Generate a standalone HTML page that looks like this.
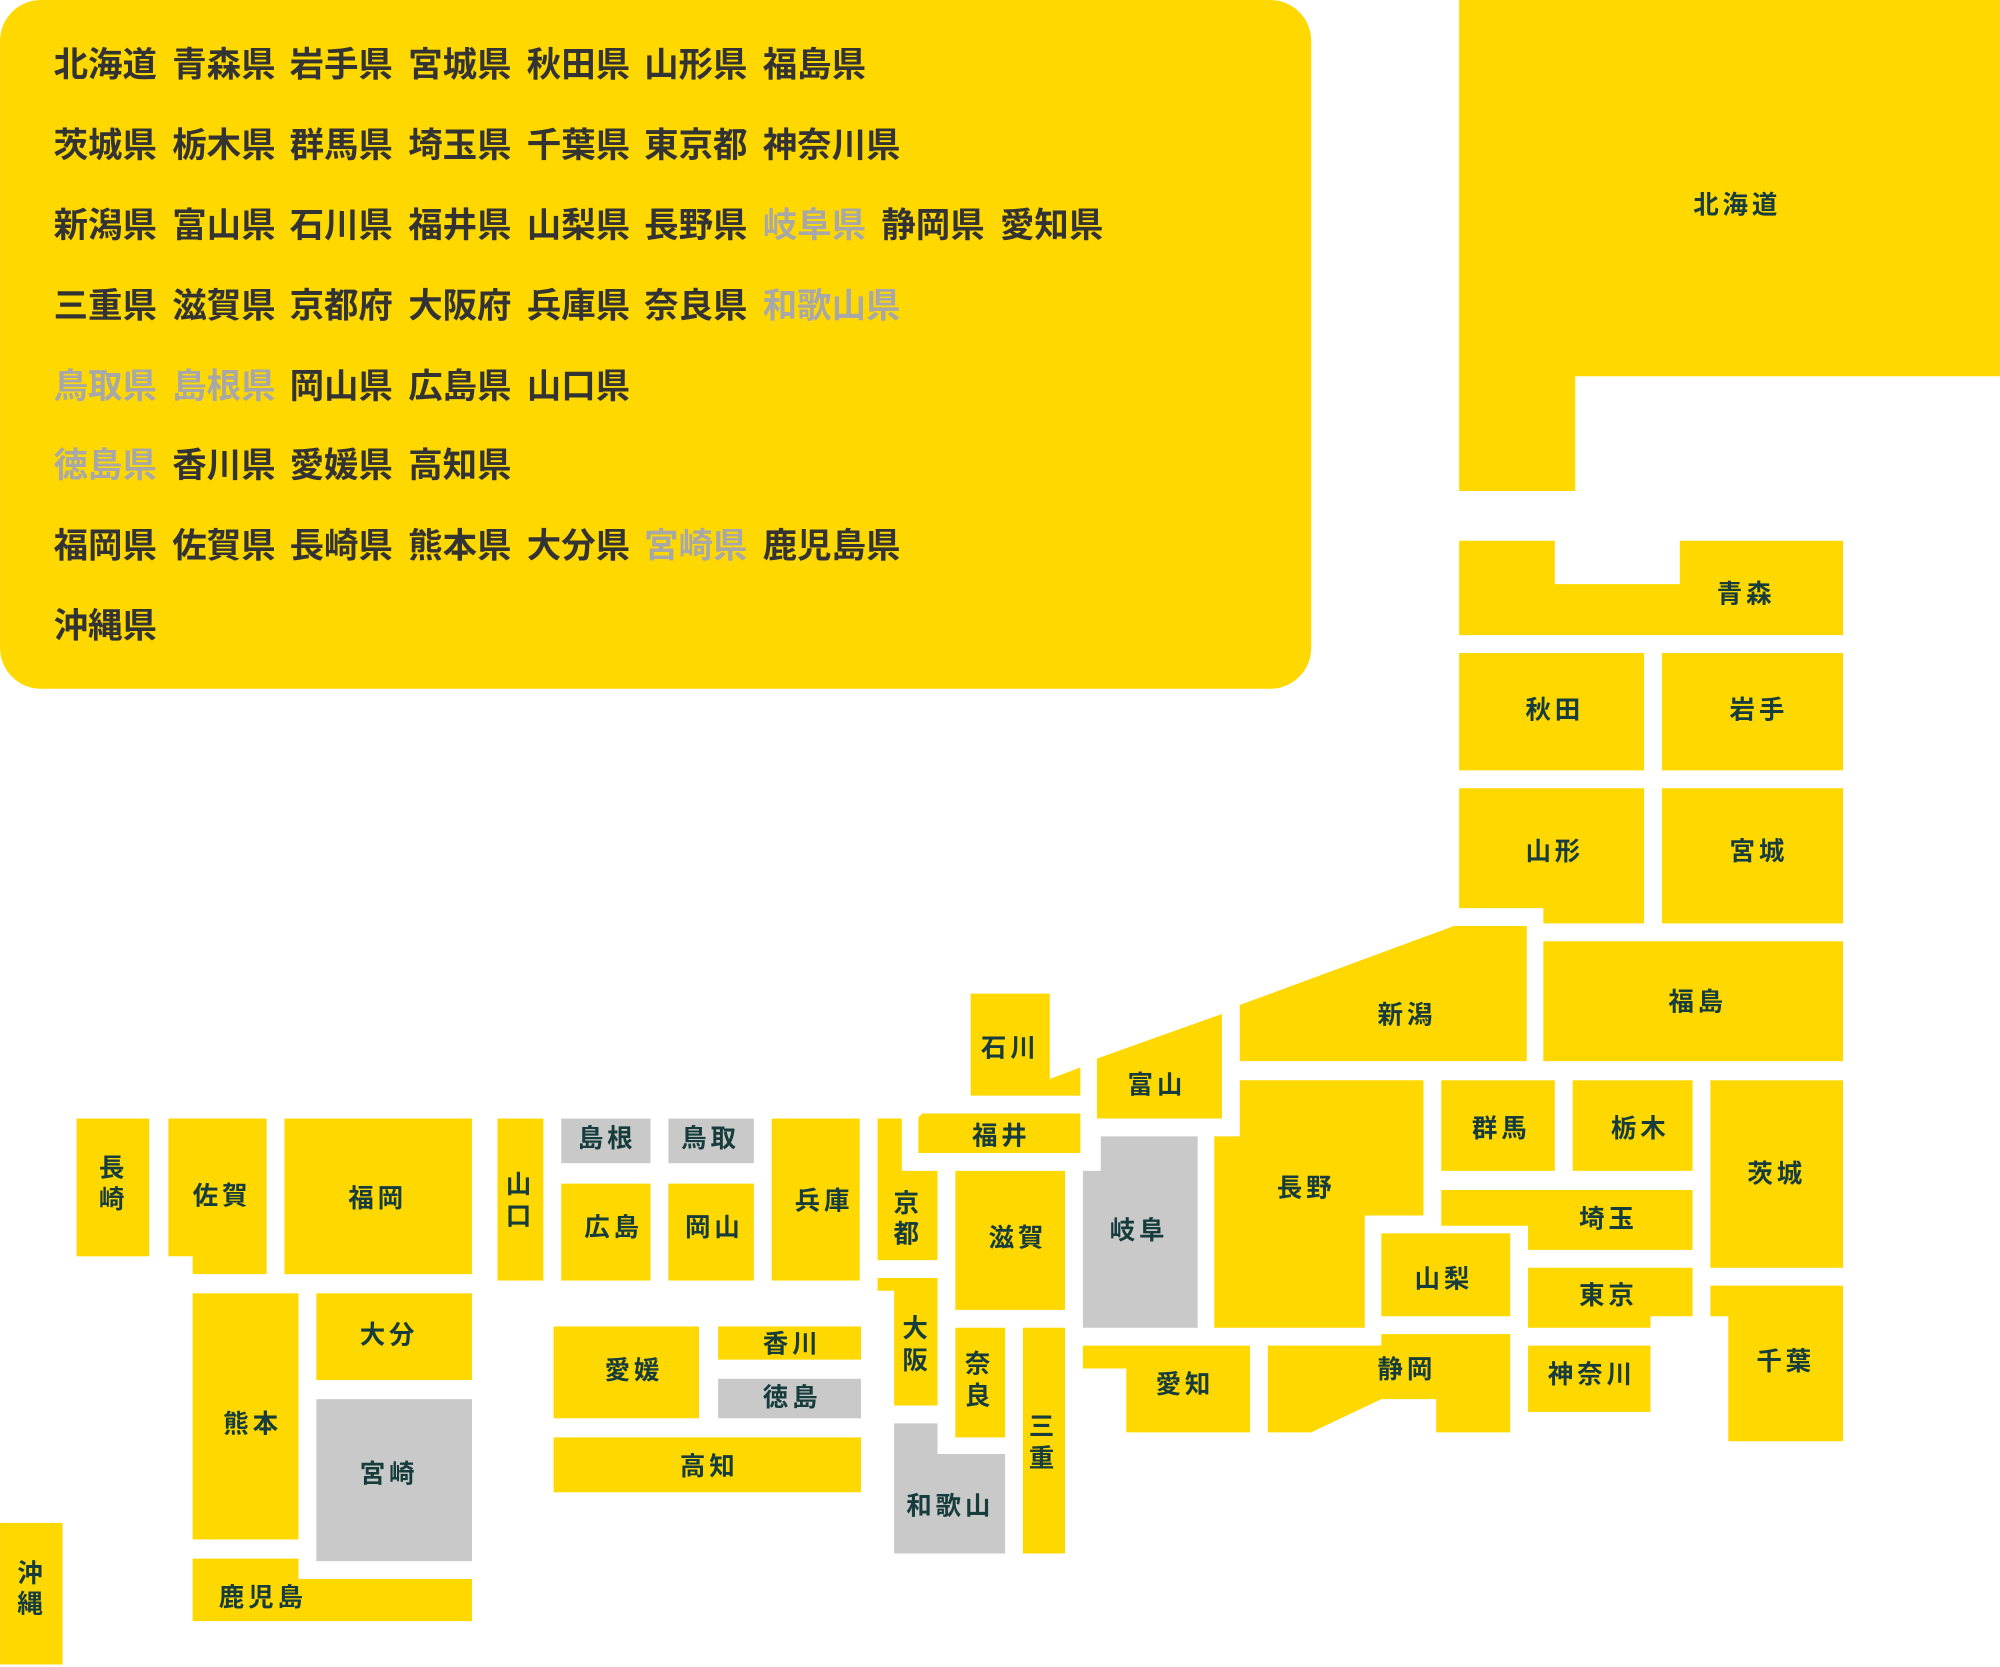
<!DOCTYPE html>
<html><head><meta charset="utf-8"><style>
html,body{margin:0;padding:0;background:#fff;}
svg{display:block}
.y{fill:#FFD800}.g{fill:#C8C9C8}
.l{font-family:"Liberation Sans","Noto Sans CJK JP",sans-serif;font-weight:bold;font-size:27px;fill:#333333}
.l .x{fill:#A8A8A8}
.m{font-family:"Liberation Sans","Noto Sans CJK JP",sans-serif;font-weight:bold;font-size:20px;fill:#173C3C;text-anchor:middle;dominant-baseline:central;letter-spacing:3px}
</style></head><body>
<svg width="2000" height="1667" viewBox="0 0 1568 1307" xmlns="http://www.w3.org/2000/svg">
<rect x="0" y="0" width="1028" height="540" rx="32" class="y"/>
<g class="l">
<text y="60"><tspan x="42">北海道</tspan><tspan x="135">青森県</tspan><tspan x="227">岩手県</tspan><tspan x="320">宮城県</tspan><tspan x="413">秋田県</tspan><tspan x="505">山形県</tspan><tspan x="598">福島県</tspan></text>
<text y="123"><tspan x="42">茨城県</tspan><tspan x="135">栃木県</tspan><tspan x="227">群馬県</tspan><tspan x="320">埼玉県</tspan><tspan x="413">千葉県</tspan><tspan x="505">東京都</tspan><tspan x="598">神奈川県</tspan></text>
<text y="186"><tspan x="42">新潟県</tspan><tspan x="135">富山県</tspan><tspan x="227">石川県</tspan><tspan x="320">福井県</tspan><tspan x="413">山梨県</tspan><tspan x="505">長野県</tspan><tspan x="598" class="x">岐阜県</tspan><tspan x="691">静岡県</tspan><tspan x="784">愛知県</tspan></text>
<text y="249"><tspan x="42">三重県</tspan><tspan x="135">滋賀県</tspan><tspan x="227">京都府</tspan><tspan x="320">大阪府</tspan><tspan x="413">兵庫県</tspan><tspan x="505">奈良県</tspan><tspan x="598" class="x">和歌山県</tspan></text>
<text y="312"><tspan x="42" class="x">鳥取県</tspan><tspan x="135" class="x">島根県</tspan><tspan x="227">岡山県</tspan><tspan x="320">広島県</tspan><tspan x="413">山口県</tspan></text>
<text y="374"><tspan x="42" class="x">徳島県</tspan><tspan x="135">香川県</tspan><tspan x="227">愛媛県</tspan><tspan x="320">高知県</tspan></text>
<text y="437"><tspan x="42">福岡県</tspan><tspan x="135">佐賀県</tspan><tspan x="227">長崎県</tspan><tspan x="320">熊本県</tspan><tspan x="413">大分県</tspan><tspan x="505" class="x">宮崎県</tspan><tspan x="598">鹿児島県</tspan></text>
<text y="500"><tspan x="42">沖縄県</tspan></text>
</g>
<g>
<polygon class="y" points="1144,0 1568,0 1568,295 1235,295 1235,385 1144,385"/>
<polygon class="y" points="1144,424 1219,424 1219,458 1317,458 1317,424 1445,424 1445,498 1144,498"/>
<rect class="y" x="1144" y="512" width="145" height="92"/>
<rect class="y" x="1303" y="512" width="142" height="92"/>
<polygon class="y" points="1144,618 1289,618 1289,724 1210,724 1210,712 1144,712"/>
<rect class="y" x="1303" y="618" width="142" height="106"/>
<polygon class="y" points="972,788 1140,726 1197,726 1197,832 972,832"/>
<rect class="y" x="1210" y="738" width="235" height="94"/>
<polygon class="y" points="860,830 958,795 958,877 860,877"/>
<polygon class="y" points="761,779 823,779 823,846 847,837 847,859 761,859"/>
<polygon class="y" points="723,873 847,873 847,904 720,904 720,876"/>
<polygon class="g" points="849,918 863,918 863,891 939,891 939,1041 849,1041"/>
<polygon class="y" points="972,847 1116,847 1116,953 1070,953 1070,1041 952,1041 952,891 972,891"/>
<rect class="y" x="1130" y="847" width="89" height="71"/>
<rect class="y" x="1233" y="847" width="94" height="71"/>
<rect class="y" x="1341" y="847" width="104" height="147"/>
<polygon class="y" points="1130,933 1327,933 1327,980 1198,980 1198,961 1130,961"/>
<rect class="y" x="1083" y="967" width="101" height="65"/>
<polygon class="y" points="1198,994 1327,994 1327,1032 1294,1032 1294,1041 1198,1041"/>
<polygon class="y" points="1341,1008 1445,1008 1445,1130 1355,1130 1355,1032 1341,1032"/>
<rect class="y" x="1198" y="1055" width="96" height="52"/>
<polygon class="y" points="1083,1046 1184,1046 1184,1123 1126,1123 1126,1097 1083,1097 1028,1123 994,1123 994,1055 1083,1055"/>
<polygon class="y" points="849,1055 980,1055 980,1123 883,1123 883,1073 849,1073"/>
<rect class="y" x="802" y="1041" width="33" height="177"/>
<rect class="y" x="749" y="1041" width="39" height="86"/>
<polygon class="g" points="701,1116 735,1116 735,1140 788,1140 788,1218 701,1218"/>
<polygon class="y" points="688,1002 735,1002 735,1102 701,1102 701,1012 688,1012"/>
<polygon class="y" points="688,877 707,877 707,918 735,918 735,988 688,988"/>
<rect class="y" x="749" y="918" width="86" height="109"/>
<rect class="y" x="605" y="877" width="69" height="127"/>
<rect class="g" x="524" y="877" width="67" height="35"/>
<rect class="g" x="440" y="877" width="70" height="35"/>
<rect class="y" x="440" y="928" width="70" height="76"/>
<rect class="y" x="524" y="928" width="67" height="76"/>
<rect class="y" x="390" y="877" width="36" height="127"/>
<rect class="y" x="434" y="1040" width="114" height="72"/>
<rect class="y" x="563" y="1040" width="112" height="26"/>
<rect class="g" x="563" y="1081" width="112" height="31"/>
<rect class="y" x="434" y="1127" width="241" height="43"/>
<rect class="y" x="223" y="877" width="147" height="122"/>
<polygon class="y" points="132,877 209,877 209,999 151,999 151,985 132,985"/>
<rect class="y" x="60" y="877" width="57" height="108"/>
<rect class="y" x="248" y="1014" width="122" height="68"/>
<rect class="y" x="151" y="1014" width="83" height="193"/>
<rect class="g" x="248" y="1097" width="122" height="127"/>
<polygon class="y" points="151,1222 234,1222 234,1238 370,1238 370,1271 151,1271"/>
<rect class="y" x="0" y="1194" width="49" height="111"/>
</g>
<g class="m">
<text x="1362" y="161">北海道</text>
<text x="1369" y="466">青森</text>
<text x="1219" y="557">秋田</text>
<text x="1379" y="557">岩手</text>
<text x="1219" y="668">山形</text>
<text x="1379" y="668">宮城</text>
<text x="1103" y="796">新潟</text>
<text x="1331" y="786">福島</text>
<text x="907" y="851">富山</text>
<text x="792" y="822">石川</text>
<text x="785" y="891">福井</text>
<text x="893" y="965">岐阜</text>
<text x="1024" y="932">長野</text>
<text x="1177" y="885">群馬</text>
<text x="1286" y="885">栃木</text>
<text x="1393" y="921">茨城</text>
<text x="1261" y="956">埼玉</text>
<text x="1132" y="1003">山梨</text>
<text x="1261" y="1016">東京</text>
<text x="1400" y="1068">千葉</text>
<text x="1248" y="1078">神奈川</text>
<text x="1103" y="1074">静岡</text>
<text x="929" y="1086">愛知</text>
<text x="818" y="1119">三</text><text x="818" y="1144">重</text>
<text x="768" y="1070">奈</text><text x="768" y="1095">良</text>
<text x="745" y="1181">和歌山</text>
<text x="719" y="1042">大</text><text x="719" y="1067">阪</text>
<text x="712" y="944">京</text><text x="712" y="968">都</text>
<text x="798" y="971">滋賀</text>
<text x="646" y="942">兵庫</text>
<text x="557" y="893">鳥取</text>
<text x="476" y="893">島根</text>
<text x="481" y="963">広島</text>
<text x="560" y="963">岡山</text>
<text x="408" y="929">山</text><text x="408" y="954">口</text>
<text x="497" y="1075">愛媛</text>
<text x="621" y="1054">香川</text>
<text x="621" y="1096">徳島</text>
<text x="556" y="1150">高知</text>
<text x="296" y="940">福岡</text>
<text x="174" y="938">佐賀</text>
<text x="89" y="916">長</text><text x="89" y="941">崎</text>
<text x="305" y="1047">大分</text>
<text x="198" y="1117">熊本</text>
<text x="305" y="1156">宮崎</text>
<text x="206" y="1253">鹿児島</text>
<text x="25" y="1234">沖</text><text x="25" y="1258">縄</text>
</g>
</svg>
</body></html>
